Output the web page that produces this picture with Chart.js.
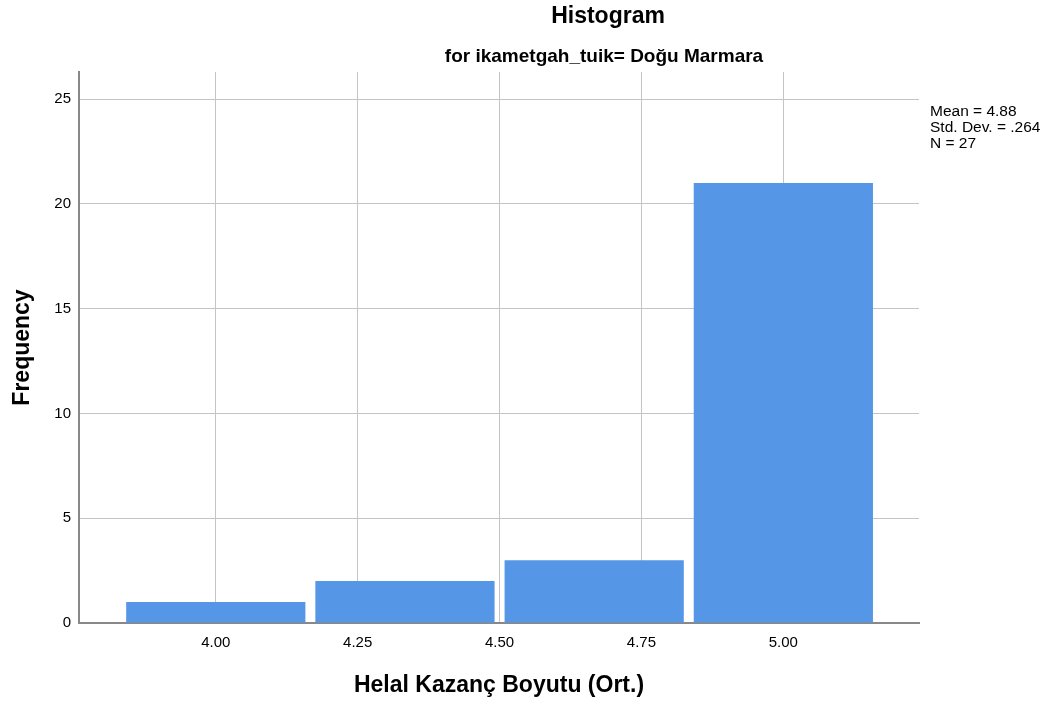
<!DOCTYPE html>
<html>
<head>
<meta charset="utf-8">
<script src="https://cdn.jsdelivr.net/npm/chart.js@4.4.1/dist/chart.umd.min.js"></script>
<style>
  html, body { margin: 0; padding: 0; background: #fff; }
  #wrap { width: 1054px; height: 703px; position: relative; }
</style>
</head>
<body>
<div id="wrap"><canvas id="histChart"></canvas></div>
<script>
// histogram bins (bin centres) and counts
const binCenters = [4.00, 4.3333, 4.6667, 5.00];
const frequencies = [1, 2, 3, 21];
const xTickValues = [4.00, 4.25, 4.50, 4.75, 5.00];
const yTickValues = [0, 5, 10, 15, 20, 25];

const titleText = 'Histogram';
const subtitleText = 'for ikametgah_tuik= Doğu Marmara';
const statsLines = ['Mean = 4.88', 'Std. Dev. = .264', 'N = 27'];
const xTitle = 'Helal Kazanç Boyutu (Ort.)';
const yTitle = 'Frequency';

const FONT = '"Liberation Sans", Arial, sans-serif';

// titles and the stats box on the right are drawn by hand
const textPlugin = {
  id: 'textPlugin',
  afterDraw(chart) {
    const ctx = chart.ctx;
    const area = chart.chartArea;
    ctx.save();
    ctx.fillStyle = '#000';
    ctx.textBaseline = 'alphabetic';
    ctx.textAlign = 'center';
    ctx.font = 'bold 23px ' + FONT;
    ctx.fillText(titleText, 608, 23);
    ctx.font = 'bold 19px ' + FONT;
    ctx.fillText(subtitleText, 604, 62);

    ctx.textAlign = 'left';
    ctx.font = '15.5px ' + FONT;
    statsLines.forEach((line, i) => {
      ctx.fillText(line, area.right + 11, 116 + i * 16);
    });
    ctx.restore();
  }
};

const points = binCenters.map((c, i) => ({ x: c, y: frequencies[i] }));

new Chart(document.getElementById('histChart'), {
  type: 'bar',
  data: {
    datasets: [{
      label: 'Frequency',
      data: points,
      backgroundColor: '#5596e6',
      borderWidth: 0,
      // bar width is measured against the 0.25 tick spacing, bins are 1/3 wide
      categoryPercentage: 1,
      barPercentage: 1.263,
    }],
  },
  options: {
    responsive: true,
    maintainAspectRatio: false,
    animation: false,
    layout: { padding: { top: 72, right: 135, left: 0, bottom: 0 } },
    plugins: {
      legend: { display: false },
      tooltip: { enabled: false },
      title: { display: false },
    },
    scales: {
      x: {
        type: 'linear',
        min: 3.759,
        max: 5.239,
        offset: false,
        grid: { offset: false, color: '#c4c4c4', lineWidth: 1, drawTicks: false },
        border: { color: '#888', width: 2 },
        afterBuildTicks: (scale) => {
          scale.ticks = xTickValues.map((v) => ({ value: v }));
        },
        afterFit: (scale) => { scale.height = 80; },
        ticks: {
          color: '#000',
          padding: 11,
          font: { family: FONT, size: 15 },
          maxRotation: 0,
          callback: (v) => Number(v).toFixed(2),
        },
        title: {
          display: true,
          text: xTitle,
          color: '#000',
          font: { family: FONT, size: 23, weight: 'bold' },
          padding: { top: 0, bottom: 4 },
        },
      },
      y: {
        min: 0,
        max: 26.3,
        grid: { color: '#c4c4c4', lineWidth: 1, drawTicks: false },
        border: { color: '#888', width: 2 },
        afterBuildTicks: (scale) => {
          scale.ticks = yTickValues.map((v) => ({ value: v }));
        },
        afterFit: (scale) => { scale.width = 79; },
        ticks: {
          color: '#000',
          padding: 8,
          font: { family: FONT, size: 15 },
          callback: (v) => String(v),
        },
        title: {
          display: true,
          text: yTitle,
          color: '#000',
          font: { family: FONT, size: 23, weight: 'bold' },
          padding: { top: 9, bottom: 0 },
        },
      },
    },
  },
  plugins: [textPlugin],
});
</script>
</body>
</html>
